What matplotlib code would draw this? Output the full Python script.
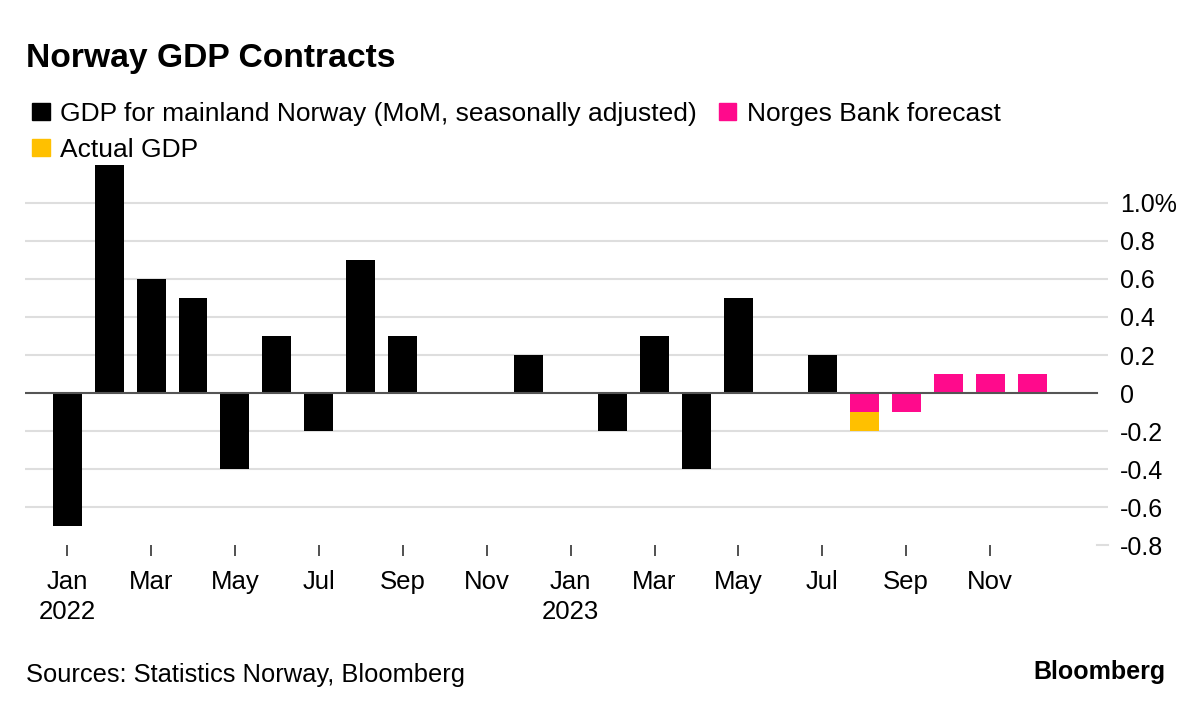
import matplotlib
matplotlib.use('Agg')
import matplotlib.pyplot as plt
from matplotlib.patches import Patch

plt.rcParams['font.family'] = ['Liberation Sans', 'DejaVu Sans']

# Data (MoM %, mainland Norway GDP)
months = ['Jan', 'Feb', 'Mar', 'Apr', 'May', 'Jun', 'Jul', 'Aug', 'Sep', 'Oct', 'Nov', 'Dec'] * 2
years = [2022] * 12 + [2023] * 12
gdp = [-0.7, 1.2, 0.6, 0.5, -0.4, 0.3, -0.2, 0.7, 0.3, 0.0, 0.0, 0.2,
       0.0, -0.2, 0.3, -0.4, 0.5, 0.0, 0.2]            # Jan 2022 - Jul 2023
actual_idx = [19]                                      # Aug 2023
actual = [-0.2]
forecast_idx = [19, 20, 21, 22, 23]                    # Aug - Dec 2023
forecast = [-0.1, -0.1, 0.1, 0.1, 0.1]
yticks = [-0.8, -0.6, -0.4, -0.2, 0, 0.2, 0.4, 0.6, 0.8, 1.0]
ylabels = ['-0.8', '-0.6', '-0.4', '-0.2', '0', '0.2', '0.4', '0.6', '0.8', '1.0%']

BLACK = '#000000'
PINK = '#ff0a8c'
YELLOW = '#ffc000'
GRID = '#dedede'

fig = plt.figure(figsize=(12, 7.13), dpi=100)
ax = fig.add_axes([0.021, 0.2356, 0.902, 0.533])

w = 0.69
ax.bar(range(len(gdp)), gdp, width=w, color=BLACK, zorder=3)
ax.bar(actual_idx, actual, width=w, color=YELLOW, zorder=3)
ax.bar(forecast_idx, forecast, width=w, color=PINK, zorder=4)

ax.set_xlim(-1.0, 24.8)
ax.set_ylim(-0.8, 1.2)

# gridlines
for y in yticks:
    if y == 0:
        ax.axhline(0, xmin=0.001, xmax=0.99, color='#555555', lw=1.5, zorder=5)
    elif y == -0.8:
        ax.axhline(y, xmin=0.99, xmax=1.0, color=GRID, lw=1.5, zorder=1, clip_on=False)
    else:
        ax.axhline(y, color=GRID, lw=1.5, zorder=1)

for s in ax.spines.values():
    s.set_visible(False)

ax.yaxis.tick_right()
ax.set_yticks(yticks)
ax.set_yticklabels(ylabels, fontsize=18)
for lab in ax.get_yticklabels():
    lab.set_horizontalalignment('left')
ax.tick_params(axis='y', length=0, pad=9)

xt = list(range(0, 24, 2))
xl = []
for i in xt:
    if months[i] == 'Jan':
        xl.append(f'{months[i]}\n{years[i]}')
    else:
        xl.append(months[i])
ax.set_xticks(xt)
ax.set_xticklabels(xl, fontsize=18.5, linespacing=1.3, va='top')
ax.tick_params(axis='x', length=8, width=1.2, color='#333333', pad=10)

# title
fig.text(0.022, 0.918, 'Norway GDP Contracts', fontsize=24.2, fontweight='bold', va='center')

# legend
handles = [Patch(color=BLACK, label='GDP for mainland Norway (MoM, seasonally adjusted)'),
           Patch(color=YELLOW, label='Actual GDP'),
           Patch(color=PINK, label='Norges Bank forecast')]
fig.legend(handles=handles, ncol=2, loc='upper left', bbox_to_anchor=(0.027, 0.857),
           frameon=False, fontsize=19.0, handlelength=0.65, handleheight=0.65,
           handletextpad=0.4, columnspacing=0.85, labelspacing=0.45, borderpad=0, borderaxespad=0)

fig.text(0.022, 0.053, 'Sources: Statistics Norway, Bloomberg', fontsize=18.4, va='center')
fig.text(0.971, 0.058, 'Bloomberg', fontsize=18, fontweight='bold', ha='right', va='center')

fig.savefig('out.png', dpi=100)
